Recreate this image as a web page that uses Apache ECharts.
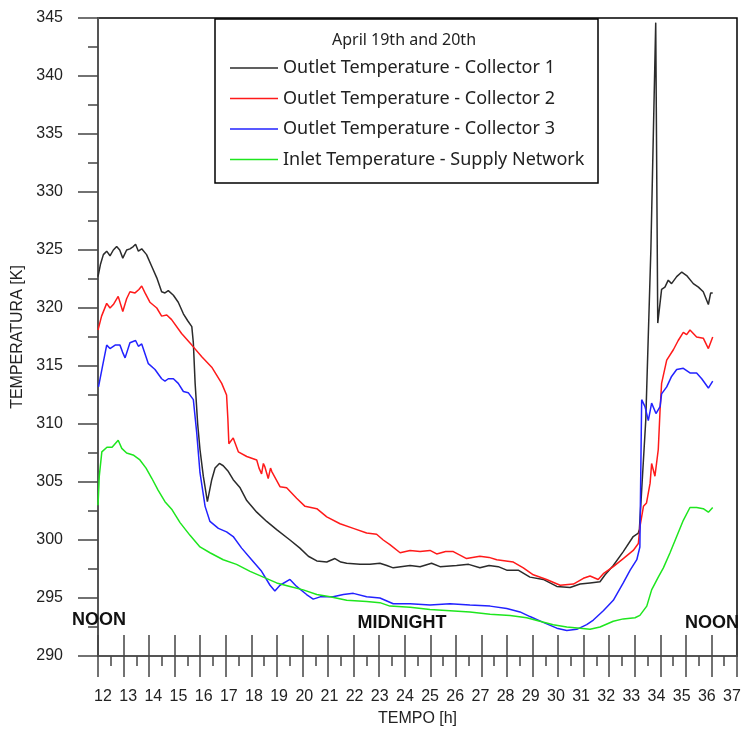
<!DOCTYPE html>
<html>
<head>
<meta charset="utf-8">
<script src="https://cdn.jsdelivr.net/npm/echarts@6/dist/echarts.min.js"></script>
<style>
  html, body { margin: 0; padding: 0; background: #fff; }
  #chart { width: 744px; height: 729px; }
</style>
</head>
<body>
<div id="chart"></div>
<script>
// hours / temperatures, one pair of arrays per curve
var c1Hours = [12.00, 12.10, 12.21, 12.34, 12.47, 12.60, 12.73, 12.85, 12.97, 13.12, 13.25, 13.38, 13.47, 13.58, 13.71, 13.90,
    14.10, 14.30, 14.49, 14.62, 14.75, 14.95, 15.14, 15.34, 15.51, 15.67, 15.73, 15.80, 15.90, 15.99, 16.12, 16.28,
    16.45, 16.58, 16.75, 16.90, 17.10, 17.29, 17.56, 17.82, 18.21, 18.60, 18.99, 19.51, 19.90, 20.23, 20.56, 20.95,
    21.27, 21.50, 21.73, 22.25, 22.64, 23.03, 23.30, 23.55, 24.21, 24.60, 25.05, 25.38, 26.03, 26.50, 26.94, 27.30,
    27.66, 27.99, 28.44, 28.90, 29.42, 29.95, 30.47, 30.86, 31.25, 31.64, 31.84, 32.16, 32.55, 32.94, 33.14, 33.18,
    33.43, 33.63, 33.82, 33.90, 34.05, 34.18, 34.31, 34.44, 34.64, 34.84, 35.03, 35.29, 35.49, 35.68, 35.88, 35.97, 36.05];
var c1Temp = [322.7, 323.8, 324.6, 324.9, 324.5, 325.0, 325.3, 325.0, 324.3, 325.0, 325.1, 325.3, 325.5, 324.9, 325.1, 324.6,
    323.6, 322.6, 321.4, 321.3, 321.5, 321.1, 320.5, 319.5, 318.9, 318.4, 317.0, 313.5, 310.0, 307.8, 305.5, 303.3,
    305.2, 306.2, 306.6, 306.4, 305.9, 305.2, 304.5, 303.4, 302.4, 301.6, 300.9, 300.0, 299.3, 298.6, 298.2, 298.1,
    298.4, 298.1, 298.0, 297.9, 297.9, 298.0, 297.8, 297.6, 297.8, 297.7, 298.0, 297.7, 297.8, 297.9, 297.6, 297.8,
    297.7, 297.4, 297.4, 296.8, 296.6, 296.0, 295.9, 296.2, 296.3, 296.4, 297.0, 297.8, 299.0, 300.3, 300.6, 300.9,
    310.3, 325.0, 344.6, 318.7, 321.6, 321.8, 322.4, 322.1, 322.7, 323.1, 322.8, 322.1, 321.8, 321.4, 320.3, 321.3, 321.3];

var c2Hours = [12.00, 12.14, 12.34, 12.47, 12.60, 12.79, 12.97, 13.12, 13.25, 13.45, 13.60, 13.71, 13.84, 14.03, 14.30, 14.49,
    14.69, 14.88, 15.27, 15.67, 16.06, 16.45, 16.84, 17.03, 17.08, 17.12, 17.29, 17.49, 17.82, 18.21, 18.30, 18.40,
    18.47, 18.53, 18.66, 18.75, 18.80, 19.12, 19.38, 19.77, 20.10, 20.56, 20.95, 21.47, 21.99, 22.51, 22.90, 23.16,
    23.42, 23.82, 24.21, 24.60, 24.99, 25.25, 25.60, 25.90, 26.42, 26.94, 27.30, 27.60, 28.25, 28.64, 29.03, 29.55,
    30.08, 30.60, 30.99, 31.25, 31.57, 31.77, 32.16, 32.55, 32.94, 33.14, 33.20, 33.34, 33.46, 33.60, 33.66, 33.79,
    33.92, 33.99, 34.05, 34.25, 34.51, 34.70, 34.90, 35.03, 35.16, 35.42, 35.68, 35.88, 36.05];
var c2Temp = [318.1, 319.3, 320.4, 320.0, 320.3, 321.0, 319.7, 320.8, 321.4, 321.3, 321.6, 321.9, 321.3, 320.5, 320.0, 319.3,
    319.4, 319.0, 317.8, 316.8, 315.8, 314.9, 313.5, 312.5, 310.5, 308.3, 308.8, 307.6, 307.2, 306.9, 306.2, 305.7,
    306.6, 306.3, 305.3, 306.2, 305.9, 304.6, 304.5, 303.6, 302.9, 302.7, 302.0, 301.4, 301.0, 300.6, 300.5, 300.0,
    299.6, 298.9, 299.1, 299.0, 299.1, 298.8, 299.0, 299.0, 298.4, 298.6, 298.5, 298.3, 298.1, 297.6, 297.0, 296.6,
    296.1, 296.2, 296.7, 296.9, 296.6, 297.1, 297.7, 298.4, 299.1, 299.7, 301.1, 302.9, 303.2, 304.9, 306.6, 305.5,
    307.8, 311.2, 313.5, 315.5, 316.4, 317.2, 317.9, 317.7, 318.1, 317.5, 317.4, 316.5, 317.5];

var c3Hours = [12.02, 12.17, 12.34, 12.47, 12.67, 12.86, 12.96, 13.06, 13.25, 13.47, 13.58, 13.71, 13.97, 14.23, 14.49, 14.62,
    14.75, 14.95, 15.14, 15.34, 15.53, 15.73, 15.86, 15.99, 16.19, 16.38, 16.71, 17.03, 17.29, 17.62, 18.01, 18.40,
    18.73, 18.92, 19.12, 19.51, 19.77, 20.16, 20.42, 20.69, 21.20, 21.60, 21.99, 22.51, 23.03, 23.55, 24.21, 24.99,
    25.77, 26.55, 27.34, 27.99, 28.51, 28.90, 29.42, 29.95, 30.34, 30.73, 31.12, 31.38, 31.77, 32.16, 32.55, 32.82,
    33.08, 33.20, 33.27, 33.40, 33.53, 33.66, 33.83, 33.99, 34.05, 34.25, 34.44, 34.64, 34.90, 35.16, 35.42, 35.62,
    35.88, 36.05];
var c3Temp = [313.2, 314.9, 316.8, 316.5, 316.8, 316.8, 316.2, 315.7, 317.0, 317.2, 316.7, 316.9, 315.2, 314.7, 313.9, 313.7,
    313.9, 313.9, 313.5, 312.8, 312.7, 312.1, 309.3, 305.8, 302.9, 301.6, 301.0, 300.7, 300.3, 299.3, 298.3, 297.3,
    296.1, 295.6, 296.1, 296.6, 296.0, 295.3, 294.9, 295.1, 295.1, 295.3, 295.4, 295.1, 295.0, 294.5, 294.5, 294.4,
    294.5, 294.4, 294.3, 294.1, 293.8, 293.4, 292.9, 292.4, 292.2, 292.3, 292.7, 293.1, 293.9, 294.8, 296.3, 297.4,
    298.3, 299.4, 312.1, 311.5, 310.3, 311.8, 310.9, 311.5, 312.6, 313.2, 314.1, 314.7, 314.8, 314.4, 314.4, 313.9,
    313.1, 313.7];

var inletHours = [12.00, 12.05, 12.15, 12.35, 12.55, 12.79, 12.93, 13.12, 13.40, 13.64, 13.88, 14.11, 14.35, 14.62, 14.90, 15.21,
    15.60, 15.99, 16.38, 16.90, 17.42, 17.95, 18.47, 18.99, 19.51, 20.03, 20.56, 21.08, 21.73, 22.51, 23.03, 23.42,
    24.21, 24.99, 25.77, 26.55, 27.34, 28.12, 28.77, 29.29, 29.81, 30.34, 30.86, 31.25, 31.64, 32.16, 32.55, 33.01,
    33.20, 33.47, 33.66, 33.92, 34.12, 34.38, 34.64, 34.90, 35.16, 35.42, 35.68, 35.88, 36.05];
var inletTemp = [303.0, 305.5, 307.6, 308.0, 308.0, 308.6, 307.9, 307.5, 307.3, 306.9, 306.2, 305.3, 304.3, 303.3, 302.6, 301.5,
    300.4, 299.4, 298.9, 298.3, 297.9, 297.3, 296.8, 296.3, 296.0, 295.7, 295.3, 295.1, 294.8, 294.7, 294.6, 294.3,
    294.2, 294.0, 293.9, 293.8, 293.6, 293.5, 293.3, 293.0, 292.7, 292.5, 292.4, 292.3, 292.5, 293.0, 293.2, 293.3,
    293.5, 294.3, 295.7, 296.8, 297.6, 298.9, 300.3, 301.7, 302.8, 302.8, 302.7, 302.4, 302.8];

var seriesNames = ['Outlet Temperature - Collector 1', 'Outlet Temperature - Collector 2',
    'Outlet Temperature - Collector 3', 'Inlet Temperature - Supply Network'];
var seriesColors = ['#2b2b2b', '#ff1a1a', '#2222ff', '#1ee61e'];
var legendTitle = 'April 19th and 20th';

function pairs(hours, temps) {
    var out = [];
    for (var i = 0; i < hours.length; i++) {
        out.push([hours[i], temps[i]]);
    }
    return out;
}

var allData = [pairs(c1Hours, c1Temp), pairs(c2Hours, c2Temp), pairs(c3Hours, c3Temp), pairs(inletHours, inletTemp)];

var chart = echarts.init(document.getElementById('chart'));

var axisGrey = '#555';
var tickStyle = {color: '#444', width: 1.5};
var series = seriesNames.map(function (name, i) {
    return {
        name: name,
        type: 'line',
        data: allData[i],
        showSymbol: false,
        symbol: 'none',
        color: seriesColors[i],
        lineStyle: {color: seriesColors[i], width: 1.5},
        animation: false
    };
});

chart.setOption({
    animation: false,
    textStyle: {fontFamily: 'Liberation Sans'},
    // outerBoundsMode none: keep the plot box where it is
    grid: [
        {left: 98, right: 7, top: 18, bottom: 73, show: true, borderColor: '#000', borderWidth: 1.5, outerBoundsMode: 'none'},
        // the hour labels in the original are spread a little tighter than the ticks
        {left: 103, right: 12, top: 18, bottom: 73, show: false, outerBoundsMode: 'none'}
    ],
    xAxis: [{
        // ticks pointing up into the plot
        type: 'value', position: 'bottom', min: 12, max: 37, interval: 1,
        axisLine: {show: true, lineStyle: {color: axisGrey, width: 2}},
        axisTick: {show: true, inside: true, length: 21, lineStyle: tickStyle},
        axisLabel: {show: false},
        splitLine: {show: false}
    }, {
        // ticks pointing down
        type: 'value', position: 'bottom', min: 12, max: 37, interval: 1,
        axisLine: {show: false},
        axisTick: {show: true, length: 21, lineStyle: tickStyle},
        minorTick: {show: true, splitNumber: 2, length: 10, lineStyle: tickStyle},
        axisLabel: {show: false},
        splitLine: {show: false},
        name: 'TEMPO [h]', nameLocation: 'middle', nameGap: 55,
        nameTextStyle: {fontSize: 16, color: '#222'}
    }, {
        // labels only
        gridIndex: 1, type: 'value', position: 'bottom', min: 12, max: 37, interval: 1,
        axisLine: {show: false},
        axisTick: {show: false},
        axisLabel: {fontSize: 16, color: '#222', margin: 33},
        splitLine: {show: false}
    }],
    yAxis: [{
        type: 'value', min: 290, max: 345, interval: 5,
        axisLine: {show: true, lineStyle: {color: axisGrey, width: 2}},
        axisTick: {show: true, length: 20, lineStyle: tickStyle},
        minorTick: {show: true, splitNumber: 2, length: 10, lineStyle: tickStyle},
        axisLabel: {fontSize: 16, color: '#222', margin: 35},
        splitLine: {show: false},
        name: 'TEMPERATURA [K]', nameLocation: 'middle', nameGap: 63, nameRotate: 90,
        nameTextStyle: {fontSize: 16, color: '#222'}
    }, {
        gridIndex: 1, type: 'value', min: 290, max: 345, show: false
    }],
    legend: {
        orient: 'vertical', left: 225, top: 53,
        icon: 'rect', itemWidth: 48, itemHeight: 1.5, itemGap: 10.5,
        textStyle: {fontSize: 18, color: '#222', fontFamily: 'Noto Sans', lineHeight: 20},
        data: seriesNames,
        selectedMode: false,
        z: 6
    },
    graphic: [
        {type: 'rect', shape: {x: 215, y: 19, width: 383, height: 164}, style: {fill: '#fff', stroke: '#000', lineWidth: 1.5}, z: 5},
        {type: 'text', x: 404, y: 40, z: 6, style: {text: legendTitle, fill: '#222', align: 'center', verticalAlign: 'middle', font: '16px "Noto Sans"'}},
        {type: 'text', x: 99, y: 620, z: 1, style: {text: 'NOON', fill: '#111', align: 'center', verticalAlign: 'middle', font: 'bold 18px "Liberation Sans"'}},
        {type: 'text', x: 402, y: 623, z: 1, style: {text: 'MIDNIGHT', fill: '#111', align: 'center', verticalAlign: 'middle', font: 'bold 18px "Liberation Sans"'}},
        {type: 'text', x: 712, y: 623, z: 1, style: {text: 'NOON', fill: '#111', align: 'center', verticalAlign: 'middle', font: 'bold 18px "Liberation Sans"'}}
    ],
    series: series
});
</script>
</body>
</html>
